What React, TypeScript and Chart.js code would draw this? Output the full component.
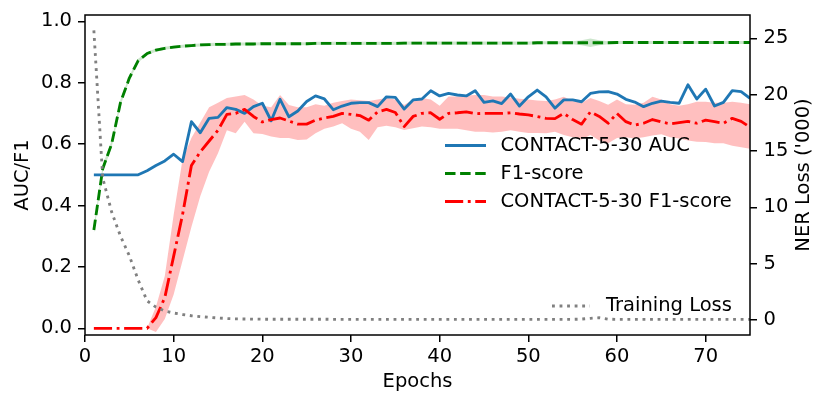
import React, { useEffect, useRef } from 'react';
import { Chart, registerables } from 'chart.js';

Chart.register(...registerables);

const epochs = [
  1, 2, 3, 4, 5, 6, 7, 8, 9, 10, 11, 12, 13, 14, 15, 16, 17, 18, 19, 20,
  21, 22, 23, 24, 25, 26, 27, 28, 29, 30, 31, 32, 33, 34, 35, 36, 37, 38, 39, 40,
  41, 42, 43, 44, 45, 46, 47, 48, 49, 50, 51, 52, 53, 54, 55, 56, 57, 58, 59, 60,
  61, 62, 63, 64, 65, 66, 67, 68, 69, 70, 71, 72, 73, 74, 75,
];

const xTicks = [0, 10, 20, 30, 40, 50, 60, 70];
const xTickLabels = ['0', '10', '20', '30', '40', '50', '60', '70'];
const leftTicks = [0, 0.2, 0.4, 0.6, 0.8, 1.0];
const leftTickLabels = ['0.0', '0.2', '0.4', '0.6', '0.8', '1.0'];
const rightTicks = [0, 5, 10, 15, 20, 25];
const rightTickLabels = ['0', '5', '10', '15', '20', '25'];

const aucValues = [
  0.5, 0.5, 0.5, 0.5, 0.5, 0.5, 0.513, 0.53, 0.545, 0.567,
  0.543, 0.673, 0.637, 0.684, 0.687, 0.719, 0.713, 0.70, 0.722, 0.733,
  0.676, 0.746, 0.689, 0.708, 0.739, 0.757, 0.747, 0.712, 0.724, 0.733,
  0.735, 0.735, 0.722, 0.754, 0.752, 0.714, 0.744, 0.747, 0.774, 0.757,
  0.765, 0.76, 0.757, 0.774, 0.736, 0.741, 0.732, 0.763, 0.724, 0.754,
  0.776, 0.754, 0.717, 0.744, 0.744, 0.738, 0.765, 0.77, 0.771, 0.763,
  0.746, 0.737, 0.722, 0.733, 0.74, 0.736, 0.733, 0.793, 0.747, 0.779,
  0.724, 0.736, 0.774, 0.771, 0.749,
];

const f1Values = [
  0.32, 0.52, 0.60, 0.735, 0.815, 0.872, 0.895, 0.906, 0.912, 0.916,
  0.919, 0.921, 0.923, 0.924, 0.925, 0.925, 0.926, 0.926, 0.926, 0.927,
  0.927, 0.927, 0.927, 0.927, 0.927, 0.928, 0.928, 0.928, 0.928, 0.928,
  0.928, 0.928, 0.928, 0.928, 0.928, 0.929, 0.929, 0.929, 0.929, 0.929,
  0.929, 0.929, 0.929, 0.929, 0.929, 0.929, 0.929, 0.929, 0.929, 0.929,
  0.930, 0.930, 0.930, 0.930, 0.930, 0.930, 0.930, 0.930, 0.930, 0.931,
  0.931, 0.931, 0.931, 0.931, 0.931, 0.931, 0.931, 0.931, 0.931, 0.931,
  0.931, 0.931, 0.931, 0.931, 0.931,
];

const f1Spread = [
  0.012, 0.012, 0.012, 0.01, 0.008, 0.006, 0.005, 0.005, 0.005, 0.005,
  0.005, 0.005, 0.005, 0.005, 0.005, 0.005, 0.005, 0.005, 0.005, 0.005,
  0.005, 0.005, 0.005, 0.005, 0.005, 0.005, 0.005, 0.005, 0.005, 0.005,
  0.005, 0.005, 0.005, 0.005, 0.005, 0.005, 0.005, 0.005, 0.005, 0.005,
  0.005, 0.005, 0.005, 0.005, 0.005, 0.005, 0.005, 0.005, 0.005, 0.005,
  0.005, 0.005, 0.005, 0.005, 0.005, 0.008, 0.014, 0.008, 0.005, 0.005,
  0.005, 0.005, 0.005, 0.005, 0.005, 0.005, 0.005, 0.005, 0.005, 0.005,
  0.005, 0.005, 0.005, 0.005, 0.005,
];

const contactF1Values = [
  0, 0, 0, 0, 0, 0, 0, 0.035, 0.10, 0.235,
  0.37, 0.53, 0.575, 0.61, 0.645, 0.697, 0.70, 0.713, 0.69, 0.672,
  0.68, 0.685, 0.675, 0.665, 0.665, 0.678, 0.685, 0.69, 0.70, 0.697,
  0.693, 0.678, 0.705, 0.713, 0.703, 0.657, 0.69, 0.70, 0.702, 0.681,
  0.70, 0.702, 0.705, 0.699, 0.70, 0.70, 0.70, 0.702, 0.698, 0.695,
  0.69, 0.684, 0.683, 0.70, 0.68, 0.665, 0.705, 0.69, 0.668, 0.70,
  0.673, 0.662, 0.668, 0.68, 0.672, 0.666, 0.67, 0.674, 0.668, 0.678,
  0.673, 0.668, 0.684, 0.674, 0.655,
];

const contactF1Lower = [
  0, 0, 0, 0, 0, 0, 0, -0.012, 0.03, 0.11,
  0.22, 0.33, 0.43, 0.51, 0.57, 0.645, 0.635, 0.673, 0.635, 0.633,
  0.625, 0.62, 0.62, 0.613, 0.615, 0.635, 0.65, 0.657, 0.668, 0.65,
  0.64, 0.613, 0.655, 0.66, 0.655, 0.646, 0.652, 0.657, 0.655, 0.65,
  0.65, 0.65, 0.645, 0.64, 0.64, 0.638, 0.64, 0.645, 0.64, 0.636,
  0.636, 0.635, 0.64, 0.63, 0.622, 0.615, 0.63, 0.612, 0.603, 0.62,
  0.622, 0.618, 0.622, 0.628, 0.632, 0.622, 0.618, 0.612, 0.608, 0.607,
  0.603, 0.603, 0.595, 0.59, 0.585,
];

const contactF1Upper = [
  0, 0, 0, 0, 0, 0, 0, 0.07, 0.17, 0.37,
  0.55, 0.62, 0.67, 0.72, 0.735, 0.75, 0.755, 0.76, 0.745, 0.725,
  0.72, 0.76, 0.727, 0.72, 0.72, 0.73, 0.725, 0.735, 0.74, 0.745,
  0.743, 0.74, 0.745, 0.75, 0.745, 0.727, 0.745, 0.75, 0.745, 0.725,
  0.755, 0.755, 0.758, 0.76, 0.76, 0.755, 0.755, 0.752, 0.748, 0.745,
  0.742, 0.74, 0.745, 0.754, 0.74, 0.735, 0.75, 0.74, 0.728, 0.745,
  0.73, 0.728, 0.735, 0.754, 0.745, 0.73, 0.725, 0.73, 0.738, 0.738,
  0.735, 0.735, 0.738, 0.735, 0.73,
];

const trainingLoss = [
  25.7, 12.6, 9.6, 7.45, 5.7, 3.55, 1.7, 1.15, 0.8, 0.62,
  0.49, 0.38, 0.3, 0.24, 0.18, 0.13, 0.1, 0.09, 0.08, 0.07,
  0.07, 0.07, 0.07, 0.07, 0.07, 0.07, 0.07, 0.06, 0.06, 0.06,
  0.06, 0.06, 0.06, 0.06, 0.06, 0.06, 0.06, 0.06, 0.06, 0.06,
  0.06, 0.06, 0.06, 0.06, 0.06, 0.06, 0.06, 0.06, 0.06, 0.06,
  0.06, 0.06, 0.06, 0.06, 0.06, 0.08, 0.15, 0.2, 0.07, 0.06,
  0.06, 0.06, 0.06, 0.06, 0.06, 0.06, 0.06, 0.06, 0.06, 0.06,
  0.06, 0.06, 0.06, 0.06, 0.06,
];

const FONT_FAMILY = '"DejaVu Sans", sans-serif';
const FS = 19.5;
const LW = 2.85;
const BLUE = '#1f77b4';
const GREEN = '#008000';
const RED = '#ff0000';
const GREY = '#808080';
const DASH_GREEN = [10.5, 4.6];
const DASH_RED = [18.2, 4.6, 2.85, 4.6];
const DASH_GREY = [2.85, 4.7];

const pts = (vals: number[]) => epochs.map((e, i) => ({ x: e, y: vals[i] }));

function drawHandle(ctx: CanvasRenderingContext2D, x0: number, x1: number, y: number, color: string, dash: number[]) {
  ctx.save();
  ctx.strokeStyle = color;
  ctx.lineWidth = LW;
  ctx.lineCap = 'butt';
  ctx.setLineDash(dash);
  ctx.beginPath();
  ctx.moveTo(x0, y);
  ctx.lineTo(x1, y);
  ctx.stroke();
  ctx.restore();
}

const overlayPlugin = {
  id: 'overlay',
  afterDraw(chart: any) {
    const ctx: CanvasRenderingContext2D = chart.ctx;
    const a = chart.chartArea;
    const ds = chart.data.datasets;
    ctx.save();
    // frame
    ctx.strokeStyle = '#000';
    ctx.lineWidth = 1.5;
    ctx.setLineDash([]);
    ctx.strokeRect(a.left, a.top, a.right - a.left, a.bottom - a.top);

    ctx.font = `${FS}px ${FONT_FAMILY}`;
    ctx.fillStyle = '#000';
    ctx.textBaseline = 'middle';
    ctx.textAlign = 'left';

    // legend of left axis
    const hx0 = a.left + 360;
    const hx1 = hx0 + 41;
    const tx = hx1 + 14.5;
    const rows = [
      { ds: ds[2], y: a.top + 130.5, dash: [] as number[] },
      { ds: ds[3], y: a.top + 158.5, dash: DASH_GREEN },
      { ds: ds[1], y: a.top + 186.5, dash: DASH_RED },
    ];
    rows.forEach((r) => {
      drawHandle(ctx, hx0, hx1, r.y, r.ds.borderColor, r.dash);
      ctx.fillText(r.ds.label, tx, r.y);
    });

    // legend of right axis
    const gx0 = a.left + 467;
    const gx1 = gx0 + 38;
    const gy = a.top + 291;
    drawHandle(ctx, gx0, gx1, gy, ds[0].borderColor, DASH_GREY);
    ctx.fillText(ds[0].label, gx1 + 16, gy);

    // right axis title (reads bottom to top)
    ctx.translate(a.right + 54.3, (a.top + a.bottom) / 2);
    ctx.rotate(-Math.PI / 2);
    ctx.textAlign = 'center';
    ctx.fillText("NER Loss ('000)", 0, 0);
    ctx.restore();
  },
};

export default function App() {
  const ref = useRef<HTMLCanvasElement | null>(null);

  useEffect(() => {
    if (!ref.current) return;
    const font = { family: FONT_FAMILY, size: FS };
    const grid = { drawOnChartArea: false, drawTicks: true, tickLength: 7, color: '#000', lineWidth: 1.5 };

    const chart = new Chart(ref.current, {
      type: 'line',
      data: {
        datasets: [
          {
            label: 'Training Loss',
            data: pts(trainingLoss),
            yAxisID: 'y1',
            borderColor: GREY,
            borderWidth: LW,
            borderDash: DASH_GREY,
            borderCapStyle: 'butt',
            pointRadius: 0,
            fill: false,
            order: 0,
          },
          {
            label: 'CONTACT-5-30 F1-score',
            data: pts(contactF1Values),
            yAxisID: 'y',
            borderColor: RED,
            borderWidth: LW,
            borderDash: DASH_RED,
            borderCapStyle: 'butt',
            borderJoinStyle: 'round',
            pointRadius: 0,
            fill: false,
            order: 1,
          },
          {
            label: 'CONTACT-5-30 AUC',
            data: pts(aucValues),
            yAxisID: 'y',
            borderColor: BLUE,
            borderWidth: LW,
            borderJoinStyle: 'round',
            pointRadius: 0,
            fill: false,
            order: 2,
          },
          {
            label: 'F1-score',
            data: pts(f1Values),
            yAxisID: 'y',
            borderColor: GREEN,
            borderWidth: LW,
            borderDash: DASH_GREEN,
            borderCapStyle: 'butt',
            borderJoinStyle: 'round',
            pointRadius: 0,
            fill: false,
            order: 3,
          },
          {
            label: 'contact band upper',
            data: pts(contactF1Upper),
            yAxisID: 'y',
            borderColor: 'rgba(0,0,0,0)',
            borderWidth: 0,
            pointRadius: 0,
            backgroundColor: 'rgba(255,0,0,0.25)',
            fill: '+1',
            order: 4,
          },
          {
            label: 'contact band lower',
            data: pts(contactF1Lower),
            yAxisID: 'y',
            borderColor: 'rgba(0,0,0,0)',
            borderWidth: 0,
            pointRadius: 0,
            fill: false,
            order: 5,
          },
          {
            label: 'f1 band upper',
            data: epochs.map((e, i) => ({ x: e, y: f1Values[i] + f1Spread[i] })),
            yAxisID: 'y',
            borderColor: 'rgba(0,0,0,0)',
            borderWidth: 0,
            pointRadius: 0,
            backgroundColor: 'rgba(0,128,0,0.2)',
            fill: '+1',
            order: 6,
          },
          {
            label: 'f1 band lower',
            data: epochs.map((e, i) => ({ x: e, y: f1Values[i] - f1Spread[i] })),
            yAxisID: 'y',
            borderColor: 'rgba(0,0,0,0)',
            borderWidth: 0,
            pointRadius: 0,
            fill: false,
            order: 7,
          },
        ],
      },
      options: {
        animation: false,
        responsive: true,
        maintainAspectRatio: false,
        events: [],
        layout: { padding: { top: 15, left: 0, right: 0, bottom: 0 } },
        plugins: {
          legend: { display: false },
          tooltip: { enabled: false },
        },
        elements: { line: { tension: 0 } },
        scales: {
          x: {
            type: 'linear',
            position: 'bottom',
            min: 0,
            max: 75,
            grid,
            border: { display: false },
            ticks: {
              autoSkip: false,
              maxRotation: 0,
              padding: 3,
              color: '#000',
              font,
              callback: (_v: any, i: number) => xTickLabels[i],
            },
            title: { display: true, text: 'Epochs', color: '#000', font, padding: { top: 0, bottom: 14 } },
            afterBuildTicks: (s: any) => {
              s.ticks = xTicks.map((v) => ({ value: v }));
            },
            afterFit: (s: any) => {
              s.height = 73;
              s.paddingLeft = 0;
              s.paddingRight = 0;
            },
          },
          y: {
            type: 'linear',
            position: 'left',
            min: -0.0218,
            max: 1.0205,
            grid,
            border: { display: false },
            ticks: {
              autoSkip: false,
              padding: 6,
              color: '#000',
              font,
              callback: (_v: any, i: number) => leftTickLabels[i],
            },
            title: { display: true, text: 'AUC/F1', color: '#000', font, padding: { top: 11.6, bottom: 0 } },
            afterBuildTicks: (s: any) => {
              s.ticks = leftTicks.map((v) => ({ value: v }));
            },
            afterFit: (s: any) => {
              s.width = 85;
              s.paddingTop = 0;
              s.paddingBottom = 0;
            },
          },
          y1: {
            type: 'linear',
            position: 'right',
            min: -1.331,
            max: 27.07,
            grid,
            border: { display: false },
            ticks: {
              autoSkip: false,
              padding: 6.5,
              color: '#000',
              font,
              callback: (_v: any, i: number) => rightTickLabels[i],
            },
            afterBuildTicks: (s: any) => {
              s.ticks = rightTicks.map((v) => ({ value: v }));
            },
            afterFit: (s: any) => {
              s.width = 80;
              s.paddingTop = 0;
              s.paddingBottom = 0;
            },
          },
        },
      } as any,
      plugins: [overlayPlugin],
    } as any);

    return () => chart.destroy();
  }, []);

  return (
    <div style={{ position: 'absolute', left: 0, top: 0, width: 830, height: 408, background: '#fff' }}>
      <canvas ref={ref} />
    </div>
  );
}
